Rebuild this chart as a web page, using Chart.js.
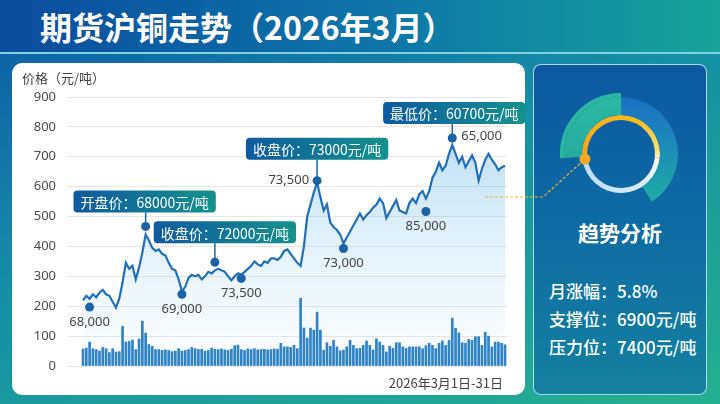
<!DOCTYPE html>
<html lang="zh">
<head>
<meta charset="utf-8">
<title>期货沪铜走势</title>
<script src="https://cdn.jsdelivr.net/npm/chart.js@4.4.1/dist/chart.umd.min.js"></script>
<style>
  html, body { margin: 0; padding: 0; }
  body {
    width: 720px; height: 404px; overflow: hidden; position: relative;
    font-family: "Noto Sans CJK SC", "Noto Sans", sans-serif;
    background: linear-gradient(160deg, #0e5aa5 0%, #1590a6 45%, #24b08f 100%);
  }
  .header {
    position: absolute; left: 0; top: 0; width: 720px; height: 52px;
    background: linear-gradient(90deg, #0b4b9d 0%, #0e78a8 55%, #17a49b 100%);
    border-bottom: 2px solid #7ed3e3;
  }
  .header h1 {
    margin: 0; position: absolute; left: 40px; top: 5px;
    font-size: 32px; font-weight: 700; color: #fff; line-height: 42px;
  }
  .card {
    position: absolute; left: 12px; top: 63px; width: 513px; height: 332px;
    background: #fff; border-radius: 10px;
  }
  .card .wrap { position: absolute; left: 0; top: 0; width: 513px; height: 332px; }
  .ytitle { position: absolute; left: 10px; top: 6px; font-size: 13px; color: #444; line-height: 18px; }
  .range { position: absolute; right: 22px; top: 311px; font-size: 13px; color: #444; line-height: 18px; }
  .panel {
    position: absolute; left: 533px; top: 64px; width: 172px; height: 329px;
    border: 1px solid rgba(200, 240, 240, 0.85); border-radius: 8px;
    background: linear-gradient(180deg, #0d58a0 0%, #0f6ca3 50%, #13829f 100%);
    color: #fff;
  }
  .panel h2 {
    margin: 0; position: absolute; left: 0; top: 153px; width: 100%;
    text-align: center; font-size: 21px; font-weight: 700; line-height: 28px;
  }
  .panel .stats { position: absolute; left: 15px; top: 212px; font-size: 17px; font-weight: 500; line-height: 28px; }
  .links { position: absolute; left: 0; top: 0; width: 720px; height: 404px; pointer-events: none; }
  .donut { position: absolute; left: 560px; top: 93px; width: 122px; height: 122px; }
</style>
</head>
<body>
<div class="header"><h1>期货沪铜走势（2026年3月）</h1></div>

<div class="card">
  <div class="wrap"><canvas id="priceChart"></canvas></div>
  <div class="ytitle">价格（元/吨）</div>
  <div class="range">2026年3月1日-31日</div>
</div>

<div class="panel">
  <h2>趋势分析</h2>
  <div class="stats">
    <div>月涨幅：5.8%</div>
    <div>支撑位：6900元/吨</div>
    <div>压力位：7400元/吨</div>
  </div>
</div>

<svg class="links" width="720" height="404">
  <polyline points="485,197 543,197 585,159" fill="none" stroke="#e7b53a" stroke-width="1.2" stroke-dasharray="3 2"/>
</svg>

<div class="donut"><canvas id="trendRing"></canvas></div>

<script>
// price line (one point per trading slot)
const priceValues = [
  220, 235, 225, 240, 230, 245, 255, 240, 235, 215,
  195, 225, 280, 345, 325, 335, 290, 330, 380, 440,
  420, 395, 385, 390, 375, 370, 345, 325, 320, 290,
  250, 265, 295, 305, 300, 305, 290, 300, 315, 310,
  320, 325, 320, 315, 300, 287, 300, 310, 305, 315,
  325, 335, 350, 340, 335, 350, 345, 360, 360, 355,
  365, 385, 390, 375, 360, 345, 335, 400, 500, 540,
  580, 615, 565, 520, 540, 480, 465, 455, 440, 410,
  430, 450, 470, 490, 510, 490, 505, 515, 530, 540,
  560, 545, 495, 515, 535, 555, 520, 515, 510, 545,
  560, 545, 575, 585, 560, 585, 630, 650, 680, 655,
  670, 710, 740, 710, 680, 700, 665, 685, 705, 680,
  620, 660, 690, 710, 690, 675, 655, 665, 670
];

// volume bars
const volumeValues = [
  57, 60, 80, 58, 55, 50, 62, 58, 45, 58, 47, 48,
  133,
  80, 82, 87, 55, 90, 150, 110,
  72, 66, 55, 55, 52, 54, 52, 48, 50, 58,
  50, 52, 55, 62, 58, 55, 56, 50, 52, 60,
  56, 55, 57, 54, 52, 56, 68, 70,
  55, 52, 57, 55, 58, 54, 55, 56, 54, 55, 57, 56, 76, 64, 64, 62, 69, 58,
  227, 127, 93, 127, 120, 180, 120,
  53, 78, 66, 86, 64, 51, 53, 64, 86, 69,
  58, 59, 69, 84, 69, 54, 91, 80, 69, 47,
  66, 59, 78, 78, 64, 59, 64, 64, 64, 64,
  58, 68, 76, 69, 58, 76, 84, 69, 86, 160,
  126, 111, 78, 76, 89, 86, 98, 98, 69, 113,
  100, 64, 80, 80, 76, 71
];

// marked points
const markIdx = [2, 19, 30, 40, 48, 71, 79, 104, 112];
const markVal = [197, 467, 240, 347, 293, 620, 393, 517, 763];
const markLabel = ['68,000', '', '69,000', '', '73,500', '73,500', '73,000', '85,000', '65,000'];
const markCallout = ['', '开盘价：68000元/吨', '', '收盘价：72000元/吨', '', '收盘价：73000元/吨', '', '', '最低价：60700元/吨'];

const yTicks = [0, 100, 200, 300, 400, 500, 600, 700, 800, 900];

// trend ring, degrees
const ringOuter = [147, 119, 94];   // rising arc, gap, falling arc
const ringInner = [193, 167];       // momentum arc, remainder
const ringStart = 262;

// where each marker's text sits
const markLayout = [
  { label: 'below' }, { callout: -1, gap: 14 }, { label: 'below' }, { callout: 10, gap: 19 },
  { label: 'below' }, { label: 'left', callout: 0, gap: 21 }, { label: 'below' }, { label: 'below' },
  { label: 'right', callout: 2, gap: 14 }
];

const calloutPlugin = {
  id: 'callouts',
  afterDatasetsDraw(chart) {
    const { ctx, scales: { x, y } } = chart;
    ctx.save();
    markIdx.forEach((idx, k) => {
      const px = x.getPixelForValue(idx);
      const py = y.getPixelForValue(markVal[k]);
      const lay = markLayout[k];

      if (markCallout[k]) {
        ctx.font = '14px "Noto Sans CJK SC", sans-serif';
        const w = ctx.measureText(markCallout[k]).width + 14;
        const h = 22;
        const cx = px + lay.callout;
        const bottom = py - lay.gap;
        ctx.strokeStyle = '#1b62a6';
        ctx.lineWidth = 1.5;
        ctx.beginPath();
        ctx.moveTo(px, bottom);
        ctx.lineTo(px, py);
        ctx.stroke();
        const g = ctx.createLinearGradient(cx - w / 2, 0, cx + w / 2, 0);
        g.addColorStop(0, '#105a9e');
        g.addColorStop(1, '#14928e');
        ctx.fillStyle = g;
        ctx.beginPath();
        ctx.roundRect(cx - w / 2, bottom - h, w, h, 4);
        ctx.fill();
        ctx.fillStyle = '#fff';
        ctx.textAlign = 'center';
        ctx.textBaseline = 'middle';
        ctx.fillText(markCallout[k], cx, bottom - h / 2 + 1);
      }

      if (markLabel[k]) {
        ctx.font = '13px "Noto Sans", sans-serif';
        ctx.fillStyle = '#444';
        ctx.textBaseline = 'middle';
        if (lay.label === 'below') {
          ctx.textAlign = 'center';
          ctx.fillText(markLabel[k], px, py + 15);
        } else if (lay.label === 'left') {
          ctx.textAlign = 'right';
          ctx.fillText(markLabel[k], px - 8, py);
        } else {
          ctx.textAlign = 'left';
          ctx.fillText(markLabel[k], px + 9, py - 2);
        }
      }
    });
    ctx.restore();
  }
};

function renderPriceChart() {
  const el = document.getElementById('priceChart');
  new Chart(el, {
    data: {
      datasets: [
        {
          type: 'scatter',
          data: markIdx.map((idx, k) => ({ x: idx, y: markVal[k] })),
          order: 0,
          pointRadius: 4.5,
          pointBackgroundColor: '#1b62a6',
          pointBorderWidth: 0
        },
        {
          type: 'bar',
          data: volumeValues.map((v, i) => ({ x: i, y: v })),
          order: 1,
          backgroundColor: '#2f83c6',
          barThickness: 2
        },
        {
          type: 'line',
          data: priceValues.map((v, i) => ({ x: i, y: v })),
          order: 2,
          borderColor: '#1f6fb9',
          borderWidth: 2.2,
          pointRadius: 0,
          tension: 0,
          fill: 'origin',
          backgroundColor: (context) => {
            const { ctx, chartArea } = context.chart;
            if (!chartArea) return 'rgba(120,190,230,0.3)';
            const g = ctx.createLinearGradient(0, chartArea.top, 0, chartArea.bottom);
            g.addColorStop(0, 'rgba(95,175,225,0.5)');
            g.addColorStop(0.6, 'rgba(150,205,235,0.25)');
            g.addColorStop(1, 'rgba(200,230,245,0.08)');
            return g;
          }
        }
      ]
    },
    options: {
      responsive: true,
      maintainAspectRatio: false,
      animation: false,
      devicePixelRatio: 1,
      layout: { padding: { top: 34, right: 18, bottom: 29, left: 0 } },
      plugins: { legend: { display: false }, tooltip: { enabled: false } },
      scales: {
        x: { type: 'linear', offset: false, min: -4.55, max: priceValues.length - 0.4, display: false },
        y: {
          min: yTicks[0],
          max: yTicks[yTicks.length - 1],
          afterBuildTicks: (s) => { s.ticks = yTicks.map(v => ({ value: v })); },
          afterFit: (s) => { s.width = 56; },
          ticks: { padding: 12, color: '#4a4a4a', font: { size: 13, family: 'Noto Sans' } },
          grid: { color: '#e6e6e6', drawTicks: false },
          border: { display: false }
        }
      }
    },
    plugins: [calloutPlugin]
  });
}

const ringDot = {
  id: 'ringDot',
  afterDatasetsDraw(chart) {
    const arc = chart.getDatasetMeta(2).data[0];
    if (!arc) return;
    const r = (arc.innerRadius + arc.outerRadius) / 2;
    const ctx = chart.ctx;
    ctx.save();
    ctx.fillStyle = '#f5a623';
    ctx.beginPath();
    ctx.arc(arc.x + r * Math.cos(arc.startAngle), arc.y + r * Math.sin(arc.startAngle), 5.5, 0, Math.PI * 2);
    ctx.fill();
    ctx.restore();
  }
};

function renderTrendRing() {
  const el = document.getElementById('trendRing');
  const vGrad = (chart, top, bottom) => {
    const { ctx, chartArea } = chart;
    if (!chartArea) return top;
    const g = ctx.createLinearGradient(0, chartArea.top, 0, chartArea.bottom);
    g.addColorStop(0, top);
    g.addColorStop(1, bottom);
    return g;
  };
  const outerColor = (c) => (c.dataIndex === 2 ? '#2bb6a2' : 'rgba(0,0,0,0)');
  const middleColor = (c) => {
    if (c.dataIndex === 0) return vGrad(c.chart, '#1a6ec6', '#1fb3a3');
    if (c.dataIndex === 2) return vGrad(c.chart, '#2cb9a2', '#1f9f9c');
    return 'rgba(0,0,0,0)';
  };
  const momentum = (c) => {
    const { ctx, chartArea } = c.chart;
    if (!chartArea) return '#f6b81e';
    const cx = (chartArea.left + chartArea.right) / 2;
    const cy = (chartArea.top + chartArea.bottom) / 2;
    const g = ctx.createConicGradient((ringStart - 90) * Math.PI / 180, cx, cy);
    g.addColorStop(0, '#f4a61a');
    g.addColorStop(0.35, '#f7bd22');
    g.addColorStop(0.5, '#fbdf6a');
    g.addColorStop(0.54, '#fff6d0');
    g.addColorStop(0.6, '#e4f1fb');
    g.addColorStop(1, '#b8dbf5');
    return g;
  };
  new Chart(el, {
    type: 'doughnut',
    data: {
      datasets: [
        { data: ringOuter, weight: 4, backgroundColor: outerColor, borderWidth: 0 },
        { data: ringOuter, weight: 18, backgroundColor: middleColor, borderWidth: 0 },
        { data: ringInner, weight: 5, rotation: ringStart, backgroundColor: momentum, borderWidth: 0 }
      ]
    },
    options: {
      responsive: true,
      maintainAspectRatio: false,
      animation: false,
      devicePixelRatio: 1,
      cutout: 34,
      plugins: { legend: { display: false }, tooltip: { enabled: false } }
    },
    plugins: [ringDot]
  });
}

document.addEventListener('DOMContentLoaded', () => {
  renderPriceChart();
  renderTrendRing();
});
</script>
</body>
</html>
